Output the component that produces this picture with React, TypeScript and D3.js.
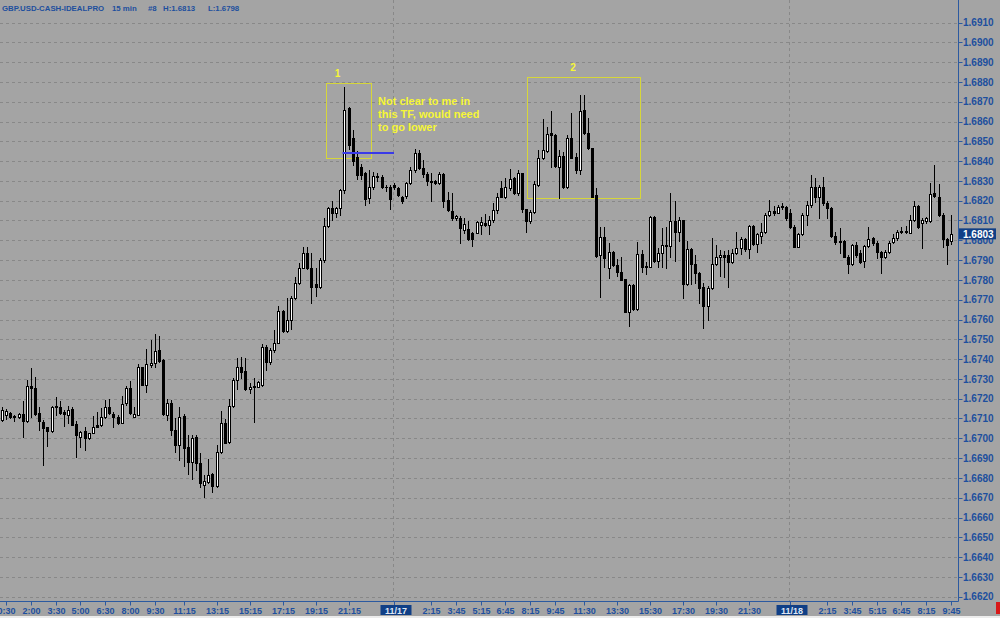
import React from "react";
import * as d3 from "d3";

const W = 1000;
const H = 618;

// ---- data (GBP.USD 15 min bars, 11/16 00:15 -> 11/18 09:45) ----
const firstBar = "11/16 0:15";
const opens = [
  1.67093, 1.67118, 1.67127, 1.67113, 1.67106, 1.67122, 1.67085, 1.67265, 1.67253, 1.67127,
  1.67083, 1.67056, 1.67039, 1.67164, 1.6716, 1.67132, 1.67118, 1.67147, 1.67073, 1.67009,
  1.67039, 1.67, 1.67029, 1.67068, 1.67068, 1.67106, 1.6716, 1.67122, 1.6711, 1.67079,
  1.67177, 1.67253, 1.6711, 1.6712, 1.67359, 1.6727, 1.67371, 1.67382, 1.67446, 1.67396,
  1.67118, 1.67177, 1.67042, 1.66966, 1.67114, 1.66954, 1.66882, 1.67005, 1.66874, 1.66764,
  1.66781, 1.6682, 1.66759, 1.66932, 1.67079, 1.66983, 1.67163, 1.67294, 1.67358, 1.67341,
  1.6725, 1.67264, 1.67261, 1.67269, 1.67463, 1.67387, 1.67446, 1.67483, 1.67643, 1.67544,
  1.67598, 1.67707, 1.67783, 1.67862, 1.67935, 1.67859, 1.6778, 1.67766, 1.67901, 1.68073,
  1.68162, 1.68137, 1.68162, 1.68254, 1.68667, 1.68515, 1.6842, 1.68372, 1.68339, 1.68212,
  1.68268, 1.68325, 1.68318, 1.68271, 1.68271, 1.6828, 1.68266, 1.68221, 1.68224, 1.68288,
  1.68355, 1.68443, 1.68364, 1.68335, 1.68297, 1.68299, 1.68291, 1.68335, 1.68204, 1.6815,
  1.68111, 1.68111, 1.68052, 1.68056, 1.68036, 1.68036, 1.68078, 1.68085, 1.68078, 1.681,
  1.68153, 1.68263, 1.68217, 1.68263, 1.68313, 1.68241, 1.68339, 1.68157, 1.68095, 1.68145,
  1.6828, 1.68414, 1.68453, 1.6854, 1.68532, 1.68369, 1.68426, 1.68268, 1.68515, 1.68423,
  1.68355, 1.68658, 1.68544, 1.68465, 1.68229, 1.67926, 1.68019, 1.67859, 1.67943, 1.67876,
  1.67838, 1.67803, 1.6764, 1.67775, 1.67652, 1.67931, 1.67871, 1.67867, 1.6812, 1.67893,
  1.67935, 1.67977, 1.67969, 1.68095, 1.68044, 1.681, 1.6778, 1.67955, 1.67881, 1.67837,
  1.67763, 1.67669, 1.67758, 1.67881, 1.67914, 1.67926, 1.67926, 1.67888, 1.67935, 1.6796,
  1.68005, 1.67955, 1.68073, 1.67982, 1.68024, 1.68044, 1.68128, 1.6815, 1.6814, 1.68175,
  1.6817, 1.68137, 1.68069, 1.67968, 1.68032, 1.68128, 1.68179, 1.68271, 1.68221, 1.68271,
  1.68187, 1.68162, 1.68022, 1.6799, 1.67994, 1.67918, 1.67881, 1.67977, 1.67935, 1.67893,
  1.67972, 1.6801, 1.67985, 1.67943, 1.67914, 1.67943, 1.67989, 1.6801, 1.68044, 1.68047,
  1.68039, 1.68103, 1.68173, 1.68086, 1.68095, 1.68095, 1.68238, 1.68217, 1.68128, 1.68005,
  1.67998,
];
const highs = [
  1.67157, 1.67147, 1.67133, 1.6712, 1.67127, 1.67186, 1.67292, 1.67354, 1.67312, 1.67157,
  1.67093, 1.67059, 1.67164, 1.67211, 1.67186, 1.67143, 1.67164, 1.67157, 1.67085, 1.67037,
  1.67059, 1.67029, 1.67113, 1.67135, 1.67152, 1.67194, 1.67197, 1.67135, 1.67118, 1.67214,
  1.67265, 1.67287, 1.6716, 1.67376, 1.67362, 1.67452, 1.67494, 1.67527, 1.67517, 1.67399,
  1.672, 1.67194, 1.671, 1.6716, 1.67123, 1.67017, 1.67017, 1.67017, 1.66927, 1.66815,
  1.66894, 1.66826, 1.66966, 1.6714, 1.67096, 1.67197, 1.67303, 1.67407, 1.67409, 1.67407,
  1.67278, 1.67303, 1.67291, 1.67476, 1.67471, 1.67454, 1.67547, 1.67668, 1.67648, 1.67707,
  1.67719, 1.67813, 1.67884, 1.67965, 1.67965, 1.67935, 1.67862, 1.6791, 1.68111, 1.6817,
  1.682, 1.6817, 1.6826, 1.68776, 1.68675, 1.68558, 1.6845, 1.68386, 1.68345, 1.68355,
  1.68345, 1.6834, 1.6833, 1.6828, 1.6828, 1.6829, 1.6827, 1.68225, 1.68295, 1.6837,
  1.6846, 1.68455, 1.68406, 1.68345, 1.68339, 1.68305, 1.68345, 1.68339, 1.68244, 1.68238,
  1.6813, 1.68125, 1.68111, 1.68095, 1.6804, 1.68095, 1.6812, 1.68135, 1.68123, 1.68186,
  1.68238, 1.68297, 1.68313, 1.68359, 1.68322, 1.68355, 1.6834, 1.6816, 1.68153, 1.68297,
  1.68456, 1.68611, 1.68574, 1.68655, 1.68535, 1.68456, 1.68448, 1.68532, 1.68642, 1.6844,
  1.68734, 1.68734, 1.68616, 1.68465, 1.68263, 1.68069, 1.68069, 1.67985, 1.67948, 1.67905,
  1.67914, 1.67805, 1.6778, 1.67778, 1.67989, 1.67952, 1.6789, 1.68123, 1.68123, 1.6796,
  1.68061, 1.68069, 1.68241, 1.68196, 1.6812, 1.68103, 1.67994, 1.6796, 1.67926, 1.67842,
  1.67783, 1.6777, 1.6801, 1.67977, 1.67952, 1.67948, 1.67952, 1.67955, 1.68044, 1.68015,
  1.6801, 1.68078, 1.68078, 1.68036, 1.68086, 1.68137, 1.68204, 1.68175, 1.68179, 1.68187,
  1.68175, 1.6816, 1.68078, 1.68036, 1.68137, 1.68196, 1.6833, 1.68313, 1.6828, 1.68322,
  1.68196, 1.6817, 1.6804, 1.6806, 1.68002, 1.67926, 1.67982, 1.67989, 1.67952, 1.67977,
  1.68069, 1.68019, 1.67994, 1.67948, 1.67952, 1.67994, 1.68032, 1.68052, 1.68069, 1.6807,
  1.68128, 1.68196, 1.68179, 1.68111, 1.6812, 1.68288, 1.68381, 1.68285, 1.68137, 1.6801,
  1.6813,
];
const lows = [
  1.67085, 1.67096, 1.671, 1.67085, 1.67103, 1.67009, 1.67083, 1.6711, 1.67118, 1.67042,
  1.66866, 1.66962, 1.67034, 1.67118, 1.67123, 1.67063, 1.67076, 1.67066, 1.66908, 1.66958,
  1.66941, 1.66995, 1.67026, 1.67056, 1.67063, 1.67101, 1.67123, 1.67056, 1.67073, 1.67076,
  1.67169, 1.67123, 1.67106, 1.67118, 1.67268, 1.67236, 1.67362, 1.67362, 1.67386, 1.67118,
  1.6709, 1.67017, 1.66933, 1.6689, 1.6686, 1.6682, 1.66793, 1.6684, 1.66752, 1.66702,
  1.66773, 1.6673, 1.66756, 1.66927, 1.66975, 1.66978, 1.6716, 1.67247, 1.67303, 1.67244,
  1.6723, 1.67084, 1.67257, 1.67264, 1.67345, 1.67375, 1.67438, 1.6748, 1.67539, 1.67539,
  1.6755, 1.67702, 1.6778, 1.67859, 1.67855, 1.67682, 1.6772, 1.6776, 1.6789, 1.68069,
  1.681, 1.6812, 1.6813, 1.6824, 1.6846, 1.6838, 1.6831, 1.6831, 1.68179, 1.68186,
  1.6826, 1.683, 1.68265, 1.6825, 1.68157, 1.6826, 1.68224, 1.6819, 1.68212, 1.68285,
  1.68345, 1.6836, 1.6832, 1.6828, 1.68196, 1.68285, 1.68285, 1.6817, 1.68148, 1.68103,
  1.68105, 1.67985, 1.68036, 1.68002, 1.67973, 1.68036, 1.6803, 1.6807, 1.6803, 1.6809,
  1.68137, 1.68217, 1.68212, 1.68254, 1.68234, 1.68229, 1.68145, 1.68044, 1.68086, 1.68137,
  1.68275, 1.6841, 1.68448, 1.68372, 1.68369, 1.68212, 1.68263, 1.68263, 1.68414, 1.68339,
  1.68335, 1.68535, 1.6846, 1.68217, 1.67918, 1.67716, 1.67864, 1.67808, 1.67871, 1.6782,
  1.678, 1.67638, 1.67568, 1.67648, 1.67648, 1.67842, 1.6783, 1.67864, 1.67888, 1.67864,
  1.67864, 1.67859, 1.67918, 1.67893, 1.67994, 1.67707, 1.67775, 1.6778, 1.67783, 1.67682,
  1.67556, 1.67598, 1.67753, 1.67876, 1.6782, 1.67817, 1.67766, 1.67884, 1.67931, 1.67931,
  1.67948, 1.6791, 1.67977, 1.67943, 1.67985, 1.68039, 1.68123, 1.6813, 1.68137, 1.6816,
  1.68105, 1.68061, 1.67965, 1.67965, 1.68027, 1.68078, 1.6817, 1.68191, 1.68111, 1.68179,
  1.68111, 1.68019, 1.6798, 1.67935, 1.67914, 1.67837, 1.67876, 1.67918, 1.67884, 1.67867,
  1.67965, 1.67977, 1.67909, 1.67834, 1.6791, 1.67938, 1.67985, 1.68002, 1.68036, 1.68035,
  1.68036, 1.68095, 1.68061, 1.6796, 1.68086, 1.6809, 1.68221, 1.68123, 1.67965, 1.67881,
  1.6798,
];
const closes = [
  1.67143, 1.6714, 1.67106, 1.67106, 1.67122, 1.67085, 1.67265, 1.67253, 1.67122, 1.67085,
  1.67054, 1.67039, 1.67157, 1.67157, 1.67127, 1.67122, 1.67143, 1.67068, 1.67017, 1.67031,
  1.67, 1.67026, 1.67059, 1.67059, 1.67106, 1.6716, 1.67127, 1.6711, 1.67076, 1.67174,
  1.67253, 1.67127, 1.67123, 1.67362, 1.6727, 1.67376, 1.67382, 1.67441, 1.67388, 1.67123,
  1.67177, 1.67042, 1.66966, 1.67106, 1.66949, 1.66882, 1.67, 1.66874, 1.66773, 1.66786,
  1.66815, 1.66759, 1.66932, 1.67079, 1.66978, 1.67163, 1.67294, 1.67358, 1.67336, 1.67247,
  1.6726, 1.67257, 1.67286, 1.67463, 1.67387, 1.67446, 1.67483, 1.67643, 1.67544, 1.67598,
  1.67707, 1.67783, 1.67862, 1.67938, 1.67859, 1.67766, 1.67766, 1.67901, 1.68073, 1.68162,
  1.68137, 1.68162, 1.68254, 1.68658, 1.6848, 1.684, 1.6833, 1.6833, 1.68207, 1.68271,
  1.68325, 1.68318, 1.68271, 1.68268, 1.68207, 1.68268, 1.68229, 1.68201, 1.68288, 1.68355,
  1.6844, 1.68364, 1.68335, 1.68297, 1.68293, 1.68291, 1.68335, 1.68201, 1.68153, 1.68111,
  1.68123, 1.68061, 1.68083, 1.68005, 1.68005, 1.6809, 1.6809, 1.68078, 1.68103, 1.68153,
  1.68217, 1.68221, 1.68268, 1.6831, 1.68238, 1.68339, 1.68157, 1.68095, 1.68145, 1.68285,
  1.68414, 1.68456, 1.68537, 1.6853, 1.68376, 1.68426, 1.68268, 1.68515, 1.68414, 1.68355,
  1.68655, 1.68541, 1.68465, 1.68221, 1.67921, 1.68019, 1.67909, 1.67943, 1.67876, 1.67838,
  1.678, 1.6764, 1.67775, 1.67652, 1.67931, 1.67864, 1.67864, 1.6812, 1.67893, 1.67935,
  1.67977, 1.67969, 1.68095, 1.68044, 1.681, 1.6778, 1.67955, 1.67881, 1.67837, 1.67758,
  1.67669, 1.67758, 1.67881, 1.67918, 1.67926, 1.67914, 1.67888, 1.67938, 1.6796, 1.68005,
  1.67955, 1.68073, 1.67982, 1.68032, 1.68044, 1.68128, 1.6815, 1.6814, 1.6817, 1.6817,
  1.68111, 1.68069, 1.67968, 1.68032, 1.68128, 1.68179, 1.68271, 1.68221, 1.68271, 1.68187,
  1.68162, 1.68022, 1.67989, 1.67997, 1.67918, 1.67881, 1.67977, 1.67926, 1.67888, 1.67972,
  1.68005, 1.67985, 1.67943, 1.67918, 1.67943, 1.67985, 1.6801, 1.68044, 1.68047, 1.68042,
  1.68103, 1.68173, 1.68066, 1.681, 1.68111, 1.68233, 1.68224, 1.68128, 1.68005, 1.67977,
  1.6803,
];

const priceTicks = [
  1.691, 1.69, 1.689, 1.688, 1.687, 1.686, 1.685, 1.684, 1.683, 1.682,
  1.681, 1.68, 1.679, 1.678, 1.677, 1.676, 1.675, 1.674, 1.673, 1.672,
  1.671, 1.67, 1.669, 1.668, 1.667, 1.666, 1.665, 1.664, 1.663, 1.662,
];
const timeTicks = [
  "11/16 0:30", "11/16 2:00", "11/16 3:30", "11/16 5:00", "11/16 6:30", "11/16 8:00",
  "11/16 9:30", "11/16 11:15", "11/16 13:15", "11/16 15:15", "11/16 17:15", "11/16 19:15",
  "11/16 21:15", "11/17 2:15", "11/17 3:45", "11/17 5:15", "11/17 6:45", "11/17 8:15",
  "11/17 9:45", "11/17 11:30", "11/17 13:30", "11/17 15:30", "11/17 17:30", "11/17 19:30",
  "11/17 21:30", "11/18 2:15", "11/18 3:45", "11/18 5:15", "11/18 6:45", "11/18 8:15",
  "11/18 9:45",
];
const dayStarts = ["11/17 0:00", "11/18 0:00"];
const lastPrice = 1.6803;
const headerParts = ["GBP.USD-CASH-IDEALPRO", "15 min", "#8", "H:1.6813", "L:1.6798"];
const noteLines = ["Not clear to me in", "this TF, would need", "to go lower"];
const levelLine = 1.68441;

// ---- helpers ----
function minutesOf(s: string) {
  const [d, t] = s.split(" ");
  const day = +d.split("/")[1];
  const [hh, mm] = t.split(":").map(Number);
  return day * 1440 + hh * 60 + mm;
}
const barIndex = (s: string) => (minutesOf(s) - minutesOf(firstBar)) / 15;

const FONT = "'Liberation Sans', Arial, sans-serif";
const BG = "#a4a4a4";
const GRID = "#888888";
const AXIS = "#2c5aa0";
const TXT = "#1d4f9e";
const TAG = "#103f86";
const YBOX = "#d6d63a";
const YTXT = "#f6f636";

export default function App() {
  const plotRight = 958.5;
  const plotBottom = 601.5;
  const x = d3.scaleLinear().domain([0, opens.length - 1]).range([2, 951]);
  const y = d3.scaleLinear().domain([1.662, 1.691]).range([596.7, 22.5]);
  const fmt = d3.format(".4f");

  const candles = opens.map((o, i) => {
    const c = closes[i];
    const cx = Math.round(x(i));
    const up = c >= o;
    const top = Math.round(y(Math.max(o, c)));
    const bot = Math.round(y(Math.min(o, c)));
    const hy = Math.round(y(highs[i]));
    const ly = Math.round(y(lows[i]));
    return (
      <g key={i}>
        <line x1={cx + 0.5} x2={cx + 0.5} y1={hy} y2={ly + 1} stroke="#000" strokeWidth={1} />
        {bot - top >= 1 ? (
          <rect x={cx - 0.5} y={top + 0.5} width={2} height={bot - top} fill={up ? "#fff" : "#000"} stroke="#000" strokeWidth={1} />
        ) : (
          <line x1={cx - 1} x2={cx + 2} y1={top + 0.5} y2={top + 0.5} stroke={up ? "#fff" : "#000"} strokeWidth={1} />
        )}
      </g>
    );
  });

  return (
    <svg width={W} height={H} style={{ position: "absolute", left: 0, top: 0, display: "block" }} fontFamily={FONT}>
      <rect x={0} y={0} width={W} height={H} fill={BG} />
      <rect x={0} y={616} width={W} height={2} fill="#ececec" />
      {/* grid */}
      {priceTicks.map((p) => (
        <line key={"g" + p} x1={0} x2={plotRight} y1={Math.round(y(p)) + 0.5} y2={Math.round(y(p)) + 0.5} stroke={GRID} strokeDasharray="3,3" />
      ))}
      {dayStarts.map((d) => (
        <line key={"v" + d} x1={Math.round(x(barIndex(d))) - 0.5} x2={Math.round(x(barIndex(d))) - 0.5} y1={0} y2={plotBottom} stroke={GRID} strokeDasharray="3,3" />
      ))}
      {/* annotation boxes */}
      <rect x={326.5} y={83.5} width={45} height={75} fill="none" stroke={YBOX} strokeWidth={1} />
      <rect x={527.5} y={77.5} width={113} height={121} fill="none" stroke={YBOX} strokeWidth={1} />
      {candles}
      <line x1={342.5} x2={394} y1={Math.round(y(levelLine))} y2={Math.round(y(levelLine))} stroke="#3a3ae8" strokeWidth={2} />
      <text x={337.5} y={77} fill={YTXT} fontSize={10} fontWeight="bold" textAnchor="middle">1</text>
      <text x={573} y={71} fill={YTXT} fontSize={10} fontWeight="bold" textAnchor="middle">2</text>
      {noteLines.map((t, k) => (
        <text key={t} x={378} y={105 + k * 13.2} fill={YTXT} fontSize={11} fontWeight="bold">{t}</text>
      ))}
      {/* right axis */}
      <line x1={plotRight} x2={plotRight} y1={0} y2={plotBottom} stroke={AXIS} />
      {priceTicks.map((p) => (
        <g key={"t" + p}>
          <line x1={plotRight} x2={plotRight + 4} y1={Math.round(y(p)) + 0.5} y2={Math.round(y(p)) + 0.5} stroke={AXIS} />
          <text x={963} y={y(p) + 3.6} fontSize={10} fontWeight="bold" fill={TXT}>{fmt(p)}</text>
        </g>
      ))}
      <rect x={959} y={y(lastPrice) - 6} width={37} height={11} fill={TAG} />
      <text x={963} y={y(lastPrice) + 3.6} fontSize={10} fontWeight="bold" fill="#ffffff">{fmt(lastPrice)}</text>
      {/* bottom axis */}
      <line x1={0} x2={plotRight} y1={plotBottom} y2={plotBottom} stroke={AXIS} />
      {timeTicks.map((t) => {
        const xx = Math.round(x(barIndex(t))) + 0.5;
        return (
          <g key={t}>
            <line x1={xx} x2={xx} y1={plotBottom} y2={plotBottom + 4} stroke={AXIS} />
            <text x={xx} y={613.5} fontSize={9} fontWeight="bold" fill={TXT} textAnchor="middle">{t.split(" ")[1]}</text>
          </g>
        );
      })}
      {dayStarts.map((d) => {
        const xx = Math.round(x(barIndex(d))) + 0.5;
        return (
          <g key={"d" + d}>
            <line x1={xx} x2={xx} y1={plotBottom} y2={plotBottom + 4} stroke={AXIS} />
            <rect x={xx - 14} y={605} width={31} height={10} fill={TAG} />
            <text x={xx + 1.5} y={613.5} fontSize={9} fontWeight="bold" fill="#dfe8f6" textAnchor="middle">{d.split(" ")[0]}</text>
          </g>
        );
      })}
      <rect x={996} y={602} width={4} height={12} fill="#d81818" />
      {/* header */}
      {headerParts.map((t, k) => (
        <text key={t} x={[2, 112, 148, 163, 208][k]} y={10.5} fontSize={7.8} fontWeight="bold" fill={TXT}>{t}</text>
      ))}
    </svg>
  );
}
